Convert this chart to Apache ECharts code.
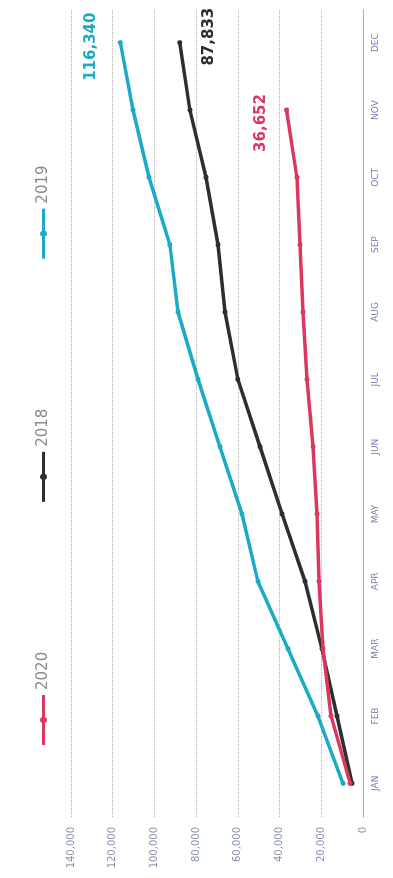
<!DOCTYPE html>
<html>
<head>
<meta charset="utf-8">
<script src="https://cdn.jsdelivr.net/npm/echarts@6/dist/echarts.min.js"></script>
<style>
  html, body { margin: 0; padding: 0; background: #fff; width: 393px; height: 878px; overflow: hidden; }
  #chart { position: absolute; left: 0; top: 0; width: 878px; height: 393px;
           transform-origin: 0 0; transform: translateY(878px) rotate(-90deg); }
</style>
</head>
<body>
<div id="chart"></div>
<script>
const months = ['JAN','FEB','MAR','APR','MAY','JUN','JUL','AUG','SEP','OCT','NOV','DEC'];
const values2020 = [6200, 15300, 19200, 21100, 22100, 24000, 26900, 28800, 30200, 31700, 36652, null];
const values2018 = [5300, 12500, 19700, 27800, 38800, 49400, 60000, 66200, 69500, 75300, 83000, 87833];
const values2019 = [9600, 21600, 36000, 50400, 58000, 68600, 79100, 88700, 92600, 102600, 110300, 116340];
const seriesNames = ['2020', '2018', '2019'];
const valueTicks = [0, 20000, 40000, 60000, 80000, 100000, 120000, 140000];

const colors = { '2020': '#dc3760', '2018': '#2e2e2e', '2019': '#1cabc5' };
const endLabelOffset = { '2020': [-13, -25], '2018': [6, 29], '2019': [-4, -29] };
const seriesValues = { '2020': values2020, '2018': values2018, '2019': values2019 };

function buildData(name) {
  const vals = seriesValues[name];
  let last = -1;
  vals.forEach((v, i) => { if (v != null) last = i; });
  return vals.map((v, i) => {
    if (i !== last) return v;
    return {
      value: v,
      label: {
        show: true,
        position: 'inside',
        offset: endLabelOffset[name],
        align: 'center',
        verticalAlign: 'middle',
        color: colors[name],
        fontSize: 15,
        fontWeight: name === '2018' ? 'bold' : 600,
        fontFamily: 'DejaVu Sans, sans-serif',
        formatter: (p) => p.value.toLocaleString('en-US')
      }
    };
  });
}

const legendIcon = 'path://M0,2 H50 V5 H0 Z M22,3.5 A3,3.5 0 1,1 28,3.5 A3,3.5 0 1,1 22,3.5 Z';

const chart = echarts.init(document.getElementById('chart'), null, { renderer: 'canvas' });
chart.setOption({
  animation: false,
  backgroundColor: '#ffffff',
  legend: {
    data: seriesNames.map(n => ({ name: n, icon: legendIcon })),
    left: 128,
    top: 31,
    itemWidth: 50,
    itemHeight: 7,
    itemGap: 150,
    textStyle: { color: '#8a8a8a', fontSize: 15, fontFamily: 'DejaVu Sans, sans-serif' }
  },
  grid: { left: 61, right: 9, top: 71, bottom: 30 },
  xAxis: {
    type: 'category',
    data: months,
    boundaryGap: true,
    axisTick: { show: false },
    axisLine: { show: true, lineStyle: { color: '#9a9a9a', type: 'dotted', width: 1 } },
    axisLabel: { color: '#7580b0', fontSize: 9, margin: 8, fontFamily: 'DejaVu Sans, sans-serif' }
  },
  yAxis: {
    type: 'value',
    min: valueTicks[0],
    max: valueTicks[valueTicks.length - 1],
    interval: valueTicks[1] - valueTicks[0],
    axisLine: { show: false },
    axisTick: { show: false },
    splitLine: { show: true, lineStyle: { color: '#b0b0b0', type: 'dotted', width: 1 } },
    axisLabel: {
      color: '#8890b0', fontSize: 10, margin: 10, fontFamily: 'DejaVu Sans, sans-serif',
      formatter: (v) => v.toLocaleString('en-US')
    }
  },
  series: seriesNames.map(name => ({
    name: name,
    type: 'line',
    data: buildData(name),
    color: colors[name],
    lineStyle: { width: 3.5, color: colors[name] },
    symbol: 'circle',
    symbolSize: 5,
    showSymbol: true,
    itemStyle: { color: colors[name] },
    z: name === '2019' ? 3 : (name === '2018' ? 2 : 4)
  }))
});
</script>
</body>
</html>
